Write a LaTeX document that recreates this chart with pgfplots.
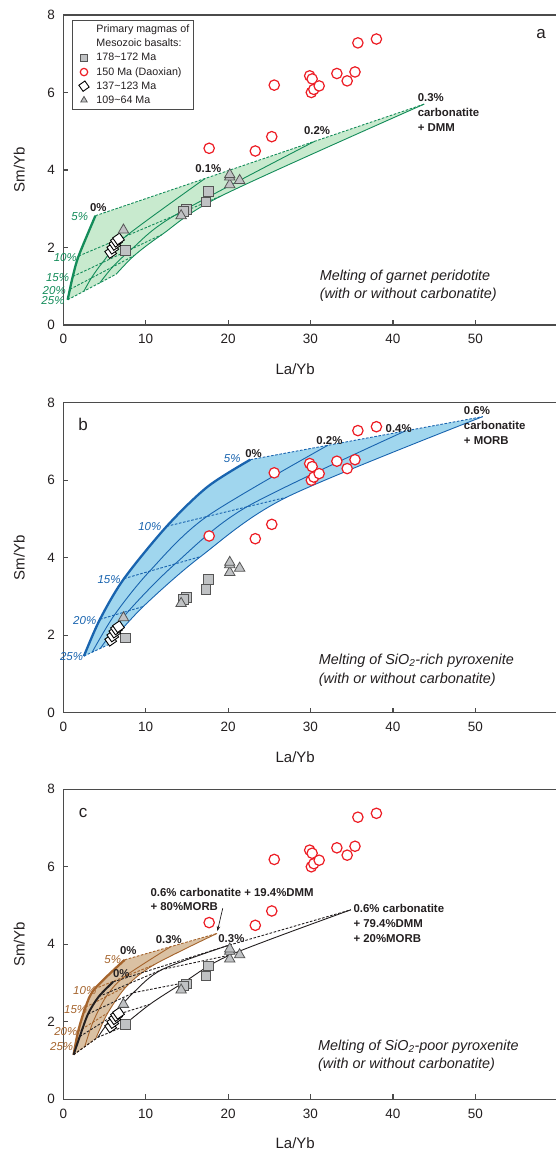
\documentclass[border=0pt]{standalone}
\usepackage{fontspec}
\setmainfont{Liberation Sans}
\usepackage{pgfplots}
\pgfplotsset{compat=1.18}
\usepackage{pgfplotstable}
\usepgfplotslibrary{fillbetween}
\usetikzlibrary{arrows.meta}

\definecolor{axgray}{RGB}{75,75,75}
\definecolor{txt}{RGB}{35,31,32}
\definecolor{cred}{RGB}{237,28,36}
\definecolor{mgray}{RGB}{192,194,196}
\definecolor{medge}{RGB}{85,85,85}
\definecolor{cgreen}{RGB}{20,140,90}
\definecolor{fgreen}{RGB}{200,234,206}
\definecolor{cblue}{RGB}{25,100,175}
\definecolor{fblue}{RGB}{160,214,238}
\definecolor{cbrown}{RGB}{165,100,45}
\definecolor{fbrown}{RGB}{218,193,163}

% sample data (same in all panels)
\pgfplotstableread{
x y
17.6 3.44
17.3 3.18
14.95 2.98
14.6 2.93
7.5 1.93
}\sqtab
\pgfplotstableread{
x y
17.7 4.56
23.3 4.49
25.3 4.86
25.6 6.19
29.9 6.43
30.2 6.35
30.1 6.00
30.4 6.08
31.05 6.17
33.2 6.49
34.45 6.30
35.4 6.53
35.75 7.28
38.0 7.38
}\circtab
\pgfplotstableread{
x y
5.75 1.87
6.0 1.98
6.25 2.08
6.45 2.16
6.7 2.22
}\diatab
\pgfplotstableread{
x y
7.3 2.45
14.3 2.82
20.2 3.62
20.2 3.82
20.2 3.88
21.4 3.73
}\tritab

\newcommand{\pct}{\fontsize{11.5}{13}\selectfont\itshape}
\newcommand{\bl}{\fontsize{11.4}{15}\selectfont\bfseries}
\newcommand{\note}{\fontsize{14.4}{18.6}\selectfont\itshape}

\pgfplotsset{
  panel/.style={
    scale only axis, width=494.4pt, height=310pt,
    xmin=0, xmax=60, ymin=0, ymax=8,
    xtick={0,10,...,50}, ytick={0,2,...,8},
    tick pos=left,
    tick align=inside, major tick length=5pt,
    axis line style={axgray, line width=1.3pt},
    every tick/.style={axgray, line width=1.2pt},
    tick label style={font=\fontsize{13.5}{16}\selectfont, text=txt},
    /pgf/number format/assume math mode=true,
    xticklabel style={yshift=-6pt},
    yticklabel style={xshift=-5pt},
    xlabel={La/Yb}, ylabel={Sm/Yb},
    every axis x label/.style={at={(axis description cs:0.469,-0.142)}, anchor=center,
      font=\fontsize{15}{18}\selectfont, text=txt},
    every axis y label/.style={at={(axis description cs:-0.089,0.5)}, rotate=90, anchor=center,
      font=\fontsize{15}{18}\selectfont, text=txt},
    clip=false,
  },
  sqm/.style={only marks, mark=square*, mark size=4.8pt, mark options={fill=mgray, draw=medge, line width=0.8pt}},
  cim/.style={only marks, mark=*, mark size=5.2pt, mark options={fill=white, draw=cred, line width=1.2pt}},
  dim/.style={only marks, mark=square*, mark size=4.2pt, mark options={fill=white, draw=black, line width=0.9pt, rotate=35}},
  trm/.style={only marks, mark=triangle*, mark size=6pt, mark options={fill=mgray, draw=medge, line width=0.8pt}},
  mcurve/.style={smooth, line width=0.9pt, forget plot},
  thickc/.style={smooth, line width=2.3pt, forget plot},
  tie/.style={line width=0.9pt, dash pattern=on 2.6pt off 1.6pt, forget plot},
}

\begin{document}
\begin{tikzpicture}

% ---------------- panel a ----------------
\begin{axis}[panel, at={(63.3pt,828pt)}, anchor=south west,
  legend style={at={(0.0176,0.984)}, anchor=north west, draw=axgray, line width=1pt,
    fill=white, font=\fontsize{10.7}{12.6}\selectfont, text=txt,
    inner xsep=2pt, inner ysep=2.5pt, row sep=1pt, cells={anchor=west}},
  legend cell align=left,
  legend image code/.code={
    \path (0pt,0pt) (19pt,0pt);
    \draw[#1, only marks, mark size=3.7pt] plot coordinates {(9pt,0pt)};
  },
]
\addplot[draw=none, name path=Ga, smooth, forget plot] coordinates {(0.53,0.65) (0.8,0.92) (1.15,1.25) (1.86,1.78) (3.9,2.82)};
\addplot[draw=none, name path=Gb, smooth, forget plot] coordinates {(6.41,1.31) (8.6,1.79) (11.95,2.33) (19.26,3.34) (43.8,5.70)};
\addplot[fgreen, forget plot] fill between[of=Ga and Gb];
\addplot[cgreen, thickc] coordinates {(0.53,0.65) (0.8,0.92) (1.15,1.25) (1.86,1.78) (3.9,2.82)};
\addplot[cgreen, mcurve] coordinates {(2.49,0.87) (3.4,1.21) (4.75,1.61) (7.66,2.30) (17.2,3.78)};
\addplot[cgreen, mcurve] coordinates {(4.45,1.09) (6.0,1.50) (8.35,1.97) (13.46,2.82) (30.5,4.74)};
\addplot[cgreen, mcurve] coordinates {(6.41,1.31) (8.6,1.79) (11.95,2.33) (19.26,3.34) (43.8,5.70)};
\addplot[cgreen, tie] coordinates {(0.53,0.65) (2.49,0.87) (4.45,1.09) (6.41,1.31)};
\addplot[cgreen, tie] coordinates {(0.8,0.92) (3.4,1.21) (6.0,1.50) (8.6,1.79)};
\addplot[cgreen, tie] coordinates {(1.15,1.25) (4.75,1.61) (8.35,1.97) (11.95,2.33)};
\addplot[cgreen, tie] coordinates {(1.86,1.78) (7.66,2.30) (13.46,2.82) (19.26,3.34)};
\addplot[cgreen, tie] coordinates {(3.9,2.82) (17.2,3.78) (30.5,4.74) (43.8,5.70)};

\addlegendimage{draw=none, mark=none}\addlegendentry{Primary magmas of}
\addlegendimage{draw=none, mark=none}\addlegendentry{Mesozoic basalts:}
\addplot[sqm] table {\sqtab}; \addlegendentry{178\textasciitilde172 Ma}
\addplot[cim] table {\circtab}; \addlegendentry{150 Ma (Daoxian)}
\addplot[dim] table {\diatab}; \addlegendentry{137\textasciitilde123 Ma}
\addplot[trm] table {\tritab}; \addlegendentry{109\textasciitilde64 Ma}

\node[text=txt, font=\bl] at (axis cs:4.25,3.04) {0\%};
\node[text=cgreen, font=\pct] at (axis cs:2.0,2.8) {5\%};
\node[text=cgreen, font=\pct] at (axis cs:0.25,1.74) {10\%};
\node[text=cgreen, font=\pct] at (axis cs:-0.7,1.22) {15\%};
\node[text=cgreen, font=\pct] at (axis cs:-1.1,0.90) {20\%};
\node[text=cgreen, font=\pct] at (axis cs:-1.25,0.63) {25\%};
\node[text=txt, font=\bl] at (axis cs:17.6,4.04) {0.1\%};
\node[text=txt, font=\bl] at (axis cs:30.8,5.02) {0.2\%};
\node[text=txt, font=\bl, align=left, anchor=west, inner sep=0pt] at (axis cs:43.0,5.48) {0.3\%\\carbonatite\\+ DMM};
\node[text=txt, font=\note, align=left, anchor=west, inner sep=0pt] at (axis cs:31.1,1.01) {Melting of garnet peridotite\\(with or without carbonatite)};
\node[text=txt, font=\fontsize{17}{20}\selectfont] at (axis cs:58,7.5) {a};
\end{axis}

% ---------------- panel b ----------------
\begin{axis}[panel, at={(63.3pt,440.3pt)}, anchor=south west]
\addplot[draw=none, name path=Ba, smooth, forget plot] coordinates {(2.5,1.46) (4.45,2.41) (7.37,3.46) (12.55,4.81) (17.5,5.83) (22.7,6.53)};
\addplot[draw=none, name path=Bb, smooth, forget plot] coordinates {(5.5,1.76) (9.7,2.74) (16.67,4.03) (27.1,5.56) (50.9,7.64)};
\addplot[fblue, forget plot] fill between[of=Ba and Bb];
\addplot[cblue, thickc] coordinates {(2.5,1.46) (4.45,2.41) (7.37,3.46) (12.55,4.81) (17.5,5.83) (22.7,6.53)};
\addplot[cblue, mcurve] coordinates {(3.5,1.56) (6.2,2.52) (10.47,3.65) (17.4,5.06) (32.1,6.90)};
\addplot[cblue, mcurve] coordinates {(4.5,1.66) (7.95,2.63) (13.57,3.84) (22.25,5.31) (41.5,7.27)};
\addplot[cblue, mcurve] coordinates {(5.5,1.76) (9.7,2.74) (16.67,4.03) (27.1,5.56) (50.9,7.64)};
\addplot[cblue, tie] coordinates {(2.5,1.46) (3.5,1.56) (4.5,1.66) (5.5,1.76)};
\addplot[cblue, tie] coordinates {(4.45,2.41) (6.2,2.52) (7.95,2.63) (9.7,2.74)};
\addplot[cblue, tie] coordinates {(7.37,3.46) (10.47,3.65) (13.57,3.84) (16.67,4.03)};
\addplot[cblue, tie] coordinates {(12.55,4.81) (17.4,5.06) (22.25,5.31) (27.1,5.56)};
\addplot[cblue, tie] coordinates {(22.7,6.53) (32.1,6.90) (41.5,7.27) (50.9,7.64)};

\addplot[sqm] table {\sqtab};
\addplot[cim] table {\circtab};
\addplot[dim] table {\diatab};
\addplot[trm] table {\tritab};

\node[text=cblue, font=\pct] at (axis cs:20.5,6.55) {5\%};
\node[text=txt, font=\bl] at (axis cs:23.1,6.68) {0\%};
\node[text=cblue, font=\pct] at (axis cs:10.5,4.81) {10\%};
\node[text=cblue, font=\pct] at (axis cs:5.55,3.44) {15\%};
\node[text=cblue, font=\pct] at (axis cs:2.6,2.37) {20\%};
\node[text=cblue, font=\pct] at (axis cs:1.0,1.46) {25\%};
\node[text=txt, font=\bl] at (axis cs:32.3,7.03) {0.2\%};
\node[text=txt, font=\bl] at (axis cs:40.7,7.33) {0.4\%};
\node[text=txt, font=\bl, align=left, anchor=west, inner sep=0pt] at (axis cs:48.6,7.40) {0.6\%\\carbonatite\\+ MORB};
\node[text=txt, font=\note, align=left, anchor=west, inner sep=0pt] at (axis cs:31.0,1.10) {Melting of SiO\textsubscript{2}-rich pyroxenite\\(with or without carbonatite)};
\node[text=txt, font=\fontsize{17}{20}\selectfont] at (axis cs:2.4,7.45) {b};
\end{axis}

% ---------------- panel c ----------------
\begin{axis}[panel, at={(63.3pt,53.7pt)}, anchor=south west]
\addplot[draw=none, name path=Ca, smooth, forget plot] coordinates {(1.25,1.15) (1.8,1.75) (2.7,2.38) (3.8,2.85) (7.45,3.60)};
\addplot[draw=none, name path=Cb, smooth, forget plot] coordinates {(3.95,1.57) (5.4,2.23) (7.7,2.92) (11.0,3.47) (18.65,4.28)};
\addplot[fbrown, forget plot] fill between[of=Ca and Cb];
\addplot[cbrown, thickc] coordinates {(1.25,1.15) (1.8,1.75) (2.7,2.38) (3.8,2.85) (7.45,3.60)};
\addplot[cbrown, mcurve] coordinates {(2.6,1.36) (3.6,1.99) (5.2,2.65) (7.4,3.16) (13.05,3.94)};
\addplot[cbrown, mcurve] coordinates {(3.95,1.57) (5.4,2.23) (7.7,2.92) (11.0,3.47) (18.65,4.28)};
\addplot[cbrown, tie] coordinates {(1.25,1.15) (2.6,1.36) (3.95,1.57)};
\addplot[cbrown, tie] coordinates {(1.8,1.75) (3.6,1.99) (5.4,2.23)};
\addplot[cbrown, tie] coordinates {(2.7,2.38) (5.2,2.65) (7.7,2.92)};
\addplot[cbrown, tie] coordinates {(3.8,2.85) (7.4,3.16) (11.0,3.47)};
\addplot[cbrown, tie] coordinates {(7.45,3.60) (13.05,3.94) (18.65,4.28)};
% DMM-dominated mixture
\addplot[txt, smooth, line width=2pt, forget plot] coordinates {(1.25,1.15) (2.0,1.62) (3.0,2.2) (4.3,2.65) (6.05,3.03)};
\addplot[txt, mcurve] coordinates {(4.2,1.6) (6.0,2.15) (8.5,2.75) (12.0,3.35) (20.0,3.97)};
\addplot[txt, mcurve] coordinates {(7.0,1.85) (10.5,2.45) (14.5,3.0) (20.2,3.72) (34.9,4.89)};
\addplot[txt, tie] coordinates {(1.25,1.15) (4.2,1.6) (7.0,1.85)};
\addplot[txt, tie] coordinates {(2.0,1.62) (6.0,2.15) (10.5,2.45)};
\addplot[txt, tie] coordinates {(3.0,2.2) (8.5,2.75) (14.5,3.0)};
\addplot[txt, tie] coordinates {(4.3,2.65) (12.0,3.35) (20.2,3.72)};
\addplot[txt, tie] coordinates {(6.05,3.03) (20.0,3.97) (34.9,4.89)};

\addplot[sqm] table {\sqtab};
\addplot[cim] table {\circtab};
\addplot[dim] table {\diatab};
\addplot[trm] table {\tritab};

\node[text=cbrown, font=\pct] at (axis cs:6.0,3.6) {5\%};
\node[text=cbrown, font=\pct] at (axis cs:2.6,2.81) {10\%};
\node[text=cbrown, font=\pct] at (axis cs:1.5,2.32) {15\%};
\node[text=cbrown, font=\pct] at (axis cs:0.3,1.76) {20\%};
\node[text=cbrown, font=\pct] at (axis cs:-0.2,1.37) {25\%};
\node[text=txt, font=\bl] at (axis cs:7.9,3.84) {0\%};
\node[text=txt, font=\bl] at (axis cs:7.05,3.24) {0\%};
\node[text=txt, font=\bl] at (axis cs:12.8,4.13) {0.3\%};
\node[text=txt, font=\bl] at (axis cs:20.4,4.14) {0.3\%};
\node[text=txt, font=\fontsize{11.4}{14.2}\selectfont\bfseries, align=left, anchor=west, inner sep=0pt] at (axis cs:10.56,5.16) {0.6\% carbonatite + 19.4\%DMM\\+ 80\%MORB};
\draw[txt, line width=0.7pt, -{Stealth[length=5pt,width=3.5pt]}] (axis cs:19.35,4.93) -- (axis cs:18.7,4.34);
\node[text=txt, font=\bl, align=left, anchor=west, inner sep=0pt] at (axis cs:35.2,4.55) {0.6\% carbonatite\\+ 79.4\%DMM\\+ 20\%MORB};
\node[text=txt, font=\note, align=left, anchor=west, inner sep=0pt] at (axis cs:30.9,1.12) {Melting of SiO\textsubscript{2}-poor pyroxenite\\(with or without carbonatite)};
\node[text=txt, font=\fontsize{17}{20}\selectfont] at (axis cs:2.4,7.40) {c};
\end{axis}

\pgfresetboundingbox
\useasboundingbox (0,0) rectangle (556pt,1153pt);
\end{tikzpicture}
\end{document}
